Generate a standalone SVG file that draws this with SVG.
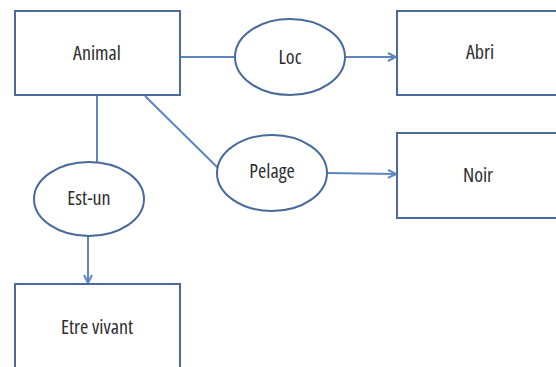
<svg xmlns="http://www.w3.org/2000/svg" width="556" height="367" viewBox="0 0 556 367">
  <style>
    .box { fill: #ffffff; stroke: #4a6b9c; stroke-width: 2; }
    .oval { fill: #ffffff; stroke: #476a9a; stroke-width: 2; }
    .edge { fill: none; stroke: #5b86bf; stroke-width: 2; }
    .label { font-family: "Open Sans", "Liberation Sans", sans-serif; font-size: 20px; fill: #2e2e2e; text-anchor: middle; dominant-baseline: central; font-stretch: condensed; }
  </style>
  <defs>
    <marker id="arrow" viewBox="0 0 10 10" refX="9" refY="5" markerWidth="5" markerHeight="5" orient="auto" markerUnits="strokeWidth">
      <polyline points="1,1 9,5 1,9" fill="none" stroke="#5b86bf" stroke-width="2"/>
    </marker>
  </defs>
  <rect width="556" height="367" fill="#ffffff"/>

  <g id="connectors">
    <line class="edge" x1="180" y1="57" x2="235" y2="57"/>
    <line class="edge" x1="345" y1="57" x2="396" y2="57" marker-end="url(#arrow)"/>
    <line class="edge" x1="145" y1="96" x2="218" y2="168"/>
    <line class="edge" x1="327" y1="173" x2="396" y2="174" marker-end="url(#arrow)"/>
    <line class="edge" x1="97" y1="96" x2="97" y2="163"/>
    <line class="edge" x1="88" y1="236" x2="88" y2="283" marker-end="url(#arrow)"/>
  </g>

  <g id="animal">
    <rect class="box" x="15" y="11" width="165" height="84"/>
    <text class="label" x="97" y="52">Animal</text>
  </g>
  <g id="loc">
    <ellipse class="oval" cx="290" cy="57" rx="55" ry="38"/>
    <text class="label" x="290" y="56">Loc</text>
  </g>
  <g id="abri">
    <rect class="box" x="397" y="11" width="170" height="84"/>
    <text class="label" x="480" y="51">Abri</text>
  </g>
  <g id="pelage">
    <ellipse class="oval" cx="272" cy="173" rx="55" ry="38"/>
    <text class="label" x="272" y="170">Pelage</text>
  </g>
  <g id="noir">
    <rect class="box" x="397" y="133" width="170" height="85"/>
    <text class="label" x="478" y="174">Noir</text>
  </g>
  <g id="est-un">
    <ellipse class="oval" cx="89" cy="199" rx="55" ry="37"/>
    <text class="label" x="89" y="197">Est-un</text>
  </g>
  <g id="etre-vivant">
    <rect class="box" x="15" y="284" width="165" height="100"/>
    <text class="label" x="97" y="326">Etre vivant</text>
  </g>
</svg>
